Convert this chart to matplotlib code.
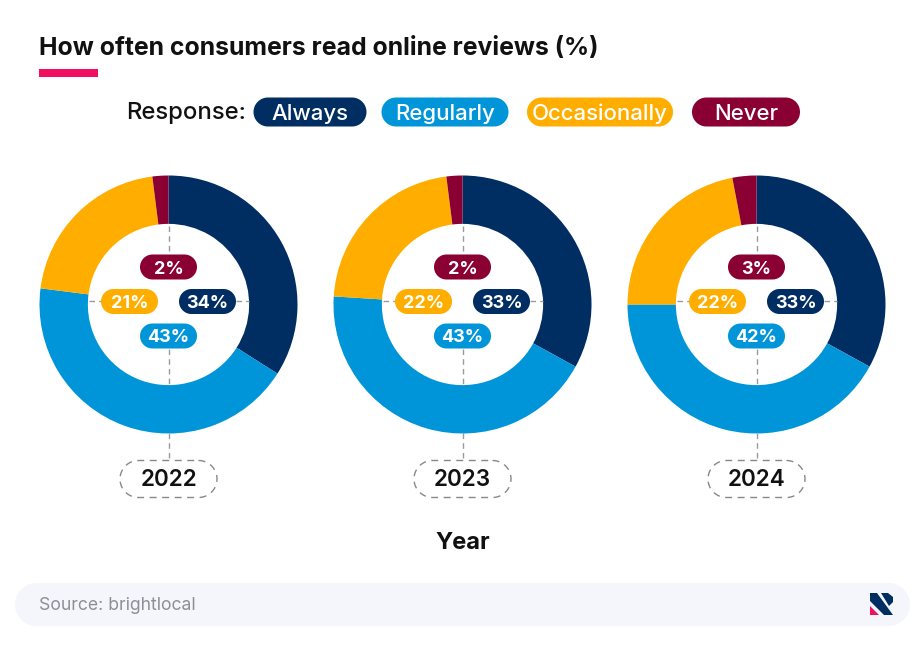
import matplotlib
matplotlib.use("Agg")
import matplotlib.pyplot as plt
import numpy as np
from matplotlib.patches import Polygon, Rectangle

W, H = 924, 645
NAVY, BLUE, AMBER, WINE = "#002d62", "#0095d9", "#ffae00", "#8a0033"
PINK = "#f0105f"

title = "How often consumers read online reviews (%)"
responses = ["Always", "Regularly", "Occasionally", "Never"]
years = ["2022", "2023", "2024"]
always = [34, 33, 33]
regularly = [43, 43, 42]
occasionally = [21, 22, 22]
never = [2, 2, 3]
source = "Source: brightlocal"

plt.rcParams["font.family"] = ["Inter", "DejaVu Sans"]
fig = plt.figure(figsize=(W / 100, H / 100), dpi=100, facecolor="white")
bg = fig.add_axes([0, 0, 1, 1])
bg.set_xlim(0, W)
bg.set_ylim(H, 0)
bg.axis("off")


def pill_shape(cx, cy, w, h):
    r = h / 2
    t = np.linspace(-np.pi / 2, np.pi / 2, 40)
    right = np.c_[cx + w / 2 - r + r * np.cos(t), cy + r * np.sin(t)]
    left = np.c_[cx - w / 2 + r - r * np.cos(t), cy - r * np.sin(t)]
    return np.vstack([right, left])


def pill(cx, cy, w, h, color, label, fs=13, weight="bold", z=5):
    bg.add_patch(Polygon(pill_shape(cx, cy, w, h), closed=True, fc=color, ec="none", zorder=z))
    bg.text(cx, cy, label, color="white", fontsize=fs, fontweight=weight,
            ha="center", va="center_baseline", zorder=z + 1)


bg.text(39, 48.5, title, fontsize=17.85, fontweight="bold", color="#111111", va="center")
bg.add_patch(Rectangle((39, 69), 59, 8, fc=PINK, ec="none"))
bg.text(126, 113, "Response:", fontsize=17.2, fontweight="medium", color="#111111", va="center")
legend_geo = [(310, 113), (445, 127), (600, 146), (746, 108)]
for (cx, w), lab, col in zip(legend_geo, responses, [NAVY, BLUE, AMBER, WINE]):
    pill(cx, 112, w, 29, col, lab, fs=16, weight="medium")

centers = [168.5, 462.5, 756.5]
cy = 304.5
R = 129
for i, x0 in enumerate(centers):
    ax = fig.add_axes([(x0 - R) / W, 1 - (cy + R) / H, 2 * R / W, 2 * R / H])
    ax.pie([always[i], regularly[i], occasionally[i], never[i]],
           colors=[NAVY, BLUE, AMBER, WINE], startangle=90, counterclock=False,
           radius=1.0, wedgeprops=dict(width=0.375))
    ax.set_xlim(-1, 1)
    ax.set_ylim(-1, 1)
    ax.patch.set_alpha(0)
    ax.set_zorder(1)
bg.set_zorder(2)
bg.patch.set_alpha(0)

dash = dict(color="#9a9a9a", lw=1.0, ls=(0, (4, 3)), zorder=3)
for i, x0 in enumerate(centers):
    bg.plot([x0, x0], [226, 255], **dash)
    bg.plot([x0, x0], [349, 385], **dash)
    bg.plot([x0, x0], [433, 460], **dash)
    bg.plot([x0 - 80, x0 - 67], [301, 301], **dash)
    bg.plot([x0 + 67, x0 + 80], [301, 301], **dash)
    pill(x0, 267, 57, 25, WINE, f"{never[i]}%")
    pill(x0 - 39, 301.5, 57, 25, AMBER, f"{occasionally[i]}%")
    pill(x0 + 39, 301.5, 57, 25, NAVY, f"{always[i]}%")
    pill(x0, 336, 57, 25, BLUE, f"{regularly[i]}%")
    bg.add_patch(Polygon(pill_shape(x0, 479, 97, 37), closed=True, fc="white",
                         ec="#888888", lw=1, ls=(0, (5, 4)), zorder=4))
    bg.text(x0, 478, years[i], fontsize=16.2, fontweight="semibold", color="#111111",
            ha="center", va="center_baseline", zorder=5)

bg.text(462.5, 543, "Year", fontsize=17, fontweight="bold", color="#111111",
        ha="center", va="center")
bg.add_patch(Polygon(pill_shape(462.5, 604.5, 895, 43), closed=True, fc="#f5f6fb", ec="none", zorder=1))
bg.text(39, 605.5, source, fontsize=12.7, color="#8a8f98", va="center", zorder=3)
# logo
bg.add_patch(Polygon([(870, 593), (877, 593), (893, 615), (884, 615), (870, 601)], fc=NAVY, ec="none", zorder=3))
bg.add_patch(Polygon([(881, 593), (888, 593), (893, 597), (893, 602), (889, 606)], fc=NAVY, ec="none", zorder=3))
bg.add_patch(Polygon([(870, 606), (879, 615), (870, 615)], fc=PINK, ec="none", zorder=3))

fig.savefig("out.png", dpi=100, facecolor="white")
